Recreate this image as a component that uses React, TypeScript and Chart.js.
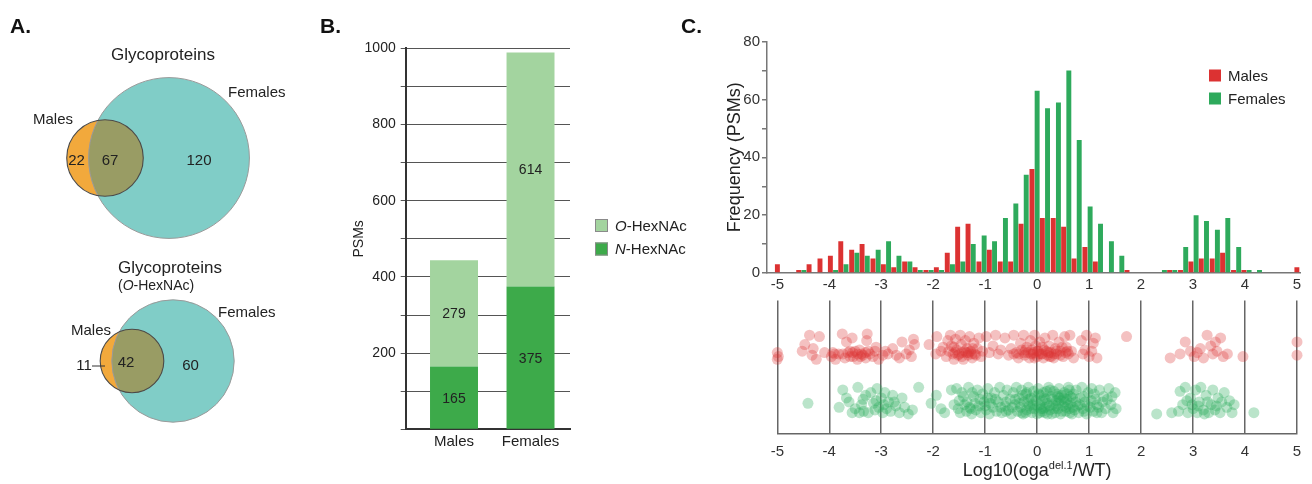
import React, { useEffect, useRef } from "react";
import { Chart, registerables } from "chart.js";

Chart.register(...registerables);

const FONT = '"Liberation Sans", Arial, Helvetica, sans-serif';
Chart.defaults.font.family = FONT;
Chart.defaults.color = "#222";

// ---------------- Panel A data ----------------
const vennSetLabels = ["Males", "Females"];
const vennTitles = ["Glycoproteins", "Glycoproteins"];
// [Males only, shared, Females only]
const vennAllProteins = [22, 67, 120];
const vennOHexNAcProteins = [11, 42, 60];

// ---------------- Panel B data ----------------
const psmCategories = ["Males", "Females"];
const psmNHexNAc = [165, 375];
const psmOHexNAc = [279, 614];
const psmTickLabels = [200, 400, 600, 800, 1000];

// ---------------- Panel C data ----------------
const histBinStarts = [
  -5.0, -4.8, -4.59, -4.39, -4.18, -3.98, -3.78, -3.57, -3.37, -3.16,
  -2.96, -2.76, -2.55, -2.35, -2.14, -1.94, -1.73, -1.53, -1.33, -1.12,
  -0.92, -0.71, -0.51, -0.31, -0.1, 0.1, 0.31, 0.51, 0.71, 0.92,
  1.12, 1.33, 1.53, 1.73, 1.94, 2.14, 2.35, 2.55, 2.76, 2.96,
  3.16, 3.37, 3.57, 3.78, 3.98, 4.18, 4.39, 4.59, 4.8, 5.0,
];
const histMales = [
  3, 0, 1, 3, 5, 6, 11, 8, 10, 5,
  3, 2, 4, 2, 1, 2, 7, 16, 17, 4,
  8, 4, 4, 17, 36, 19, 19, 16, 5, 9,
  4, 0, 0, 1, 0, 0, 0, 1, 1, 4,
  5, 5, 7, 1, 1, 0, 0, 0, 0, 2,
];
const histFemales = [
  0, 0, 1, 0, 0, 1, 3, 7, 6, 8,
  11, 6, 4, 1, 1, 1, 3, 4, 10, 13,
  11, 19, 24, 34, 63, 57, 59, 70, 46, 23,
  17, 11, 6, 0, 0, 0, 1, 1, 9, 20,
  18, 15, 19, 9, 1, 1, 0, 0, 0, 0,
];
const ratioTicks = [-5, -4, -3, -2, -1, 0, 1, 2, 3, 4, 5];
const histYTickLabels = [0, 20, 40, 60, 80];

// jitter strip: [log10 ratio, jitter position]
const scatterMales: [number, number][] = [
  [-5.0, 61], [-5.0, 56], [-4.98, 58],
  [-4.52, 62], [-4.47, 67], [-4.38, 74], [-4.33, 59], [-4.31, 64], [-4.25, 56], [-4.19, 73], [-4.09, 61],
  [-3.96, 58], [-3.93, 61], [-3.9, 60], [-3.88, 56], [-3.82, 60], [-3.75, 75], [-3.74, 60], [-3.7, 57], [-3.67, 69],
  [-3.64, 61], [-3.6, 58], [-3.6, 62], [-3.56, 72], [-3.55, 61], [-3.54, 58], [-3.5, 62], [-3.46, 56], [-3.45, 60],
  [-3.42, 63], [-3.4, 58], [-3.38, 60], [-3.35, 59], [-3.3, 57], [-3.3, 61], [-3.28, 70], [-3.27, 75], [-3.25, 62],
  [-3.22, 60], [-3.16, 58], [-3.12, 62],
  [-3.1, 65], [-3.05, 56], [-2.97, 59], [-2.92, 62], [-2.87, 60], [-2.78, 64], [-2.71, 59], [-2.65, 57], [-2.6, 69],
  [-2.52, 60], [-2.46, 63], [-2.42, 58], [-2.38, 71], [-2.36, 67],
  [-2.08, 67], [-1.95, 60], [-1.93, 73],
  [-1.85, 62], [-1.81, 65], [-1.75, 58], [-1.72, 70], [-1.7, 62], [-1.67, 74], [-1.65, 66], [-1.62, 60], [-1.6, 56],
  [-1.6, 65], [-1.58, 61], [-1.57, 71], [-1.55, 63], [-1.52, 59], [-1.5, 60], [-1.48, 74], [-1.46, 67], [-1.45, 58],
  [-1.44, 61], [-1.42, 56], [-1.4, 62], [-1.38, 70], [-1.36, 61], [-1.35, 64], [-1.33, 59], [-1.32, 61], [-1.3, 73],
  [-1.28, 62], [-1.26, 60], [-1.25, 57], [-1.24, 64], [-1.22, 68], [-1.2, 60], [-1.18, 59], [-1.15, 64], [-1.12, 72],
  [-1.08, 58], [-1.05, 62],
  [-0.98, 73], [-0.92, 61], [-0.85, 66], [-0.8, 74], [-0.75, 60], [-0.7, 63], [-0.62, 72], [-0.55, 59], [-0.5, 64],
  [-0.45, 74], [-0.45, 60], [-0.4, 61], [-0.36, 57], [-0.35, 60], [-0.32, 68], [-0.3, 63], [-0.26, 74], [-0.25, 61],
  [-0.24, 59], [-0.22, 63], [-0.2, 65], [-0.18, 61], [-0.15, 57], [-0.13, 70], [-0.12, 60], [-0.1, 63], [-0.08, 60],
  [-0.07, 61], [-0.05, 74], [-0.05, 57], [-0.03, 66], [0.0, 58], [0.0, 62], [0.02, 62], [0.04, 60], [0.05, 69],
  [0.08, 60], [0.1, 65], [0.1, 60], [0.12, 57], [0.14, 63], [0.15, 72], [0.18, 62], [0.2, 59], [0.22, 61], [0.23, 66],
  [0.24, 58], [0.26, 61], [0.27, 58], [0.3, 74], [0.32, 57], [0.33, 60], [0.35, 64], [0.37, 62], [0.38, 60], [0.42, 69],
  [0.45, 62], [0.45, 59], [0.48, 65], [0.5, 58], [0.53, 73], [0.55, 61], [0.56, 65], [0.58, 62], [0.6, 60], [0.63, 74],
  [0.66, 62], [0.7, 57],
  [0.85, 70], [0.88, 60], [0.92, 63], [0.95, 74], [1.0, 58], [1.05, 62], [1.08, 68], [1.12, 72], [1.15, 57],
  [1.72, 73],
  [2.56, 57], [2.75, 60], [2.85, 69], [2.95, 62], [3.02, 58], [3.08, 61], [3.14, 64], [3.2, 57], [3.27, 74],
  [3.34, 66], [3.38, 60], [3.43, 69], [3.46, 62], [3.53, 72], [3.58, 58], [3.66, 60], [3.96, 58],
  [5.0, 69], [5.0, 59],
];

const scatterFemales: [number, number][] = [
  [-4.41, 23],
  [-3.81, 20], [-3.74, 33], [-3.67, 27], [-3.62, 24], [-3.56, 16], [-3.5, 19], [-3.45, 35], [-3.42, 16], [-3.38, 22],
  [-3.35, 26], [-3.34, 17], [-3.3, 29], [-3.25, 16], [-3.2, 31], [-3.15, 23], [-3.12, 18], [-3.1, 25], [-3.08, 34],
  [-3.05, 20], [-3.0, 27], [-2.97, 16], [-2.95, 22], [-2.93, 31], [-2.9, 19], [-2.86, 24], [-2.82, 17], [-2.78, 29],
  [-2.75, 24], [-2.72, 21], [-2.65, 16], [-2.6, 27], [-2.55, 20], [-2.48, 15], [-2.4, 18], [-2.28, 35],
  [-2.04, 23], [-1.94, 29], [-1.85, 19], [-1.78, 16], [-1.65, 33], [-1.6, 22],
  [-1.55, 34], [-1.52, 19], [-1.5, 25], [-1.48, 16], [-1.45, 31], [-1.42, 28], [-1.4, 22], [-1.36, 17], [-1.35, 24],
  [-1.32, 35], [-1.3, 20], [-1.28, 19], [-1.26, 15], [-1.25, 31], [-1.22, 28], [-1.2, 23], [-1.18, 18], [-1.15, 33],
  [-1.12, 21], [-1.1, 26], [-1.08, 16], [-1.05, 30], [-1.02, 24], [-1.0, 21], [-0.98, 18], [-0.95, 34], [-0.95, 27],
  [-0.92, 15], [-0.9, 23], [-0.88, 27], [-0.85, 20], [-0.82, 31], [-0.8, 26], [-0.78, 17], [-0.75, 24], [-0.72, 35],
  [-0.7, 20], [-0.68, 16], [-0.65, 29], [-0.62, 21], [-0.6, 24], [-0.6, 17], [-0.58, 33], [-0.55, 18], [-0.52, 26],
  [-0.5, 15], [-0.48, 20], [-0.46, 31], [-0.43, 22], [-0.42, 26], [-0.4, 35], [-0.38, 17], [-0.35, 27], [-0.34, 23],
  [-0.32, 20], [-0.3, 33], [-0.3, 16], [-0.28, 29], [-0.27, 15], [-0.25, 24], [-0.22, 30], [-0.22, 16], [-0.2, 18],
  [-0.2, 31], [-0.18, 23], [-0.17, 35], [-0.16, 26], [-0.15, 21], [-0.12, 27], [-0.12, 19], [-0.1, 16], [-0.08, 22],
  [-0.07, 32], [-0.05, 19], [-0.05, 28], [-0.02, 25], [0.0, 15], [0.0, 21], [0.02, 34], [0.03, 30], [0.05, 22],
  [0.05, 16], [0.07, 29], [0.08, 19], [0.1, 17], [0.1, 25], [0.12, 31], [0.12, 19], [0.14, 27], [0.15, 20], [0.15, 16],
  [0.17, 26], [0.18, 32], [0.19, 23], [0.2, 15], [0.22, 35], [0.23, 21], [0.25, 18], [0.25, 33], [0.27, 28], [0.28, 15],
  [0.29, 26], [0.3, 22], [0.32, 32], [0.33, 19], [0.35, 16], [0.36, 21], [0.37, 25], [0.38, 30], [0.4, 19], [0.4, 28],
  [0.41, 23], [0.42, 34], [0.43, 27], [0.45, 15], [0.46, 25], [0.47, 29], [0.48, 17], [0.5, 21], [0.51, 27], [0.52, 31],
  [0.53, 24], [0.55, 17], [0.55, 20], [0.57, 26], [0.58, 30], [0.59, 22], [0.6, 35], [0.62, 19], [0.62, 33], [0.63, 16],
  [0.64, 28], [0.65, 23], [0.67, 15], [0.68, 27], [0.69, 20], [0.7, 30], [0.72, 18], [0.74, 24], [0.75, 33], [0.78, 21],
  [0.8, 16], [0.82, 22], [0.83, 27], [0.86, 35], [0.88, 19], [0.9, 28], [0.9, 17], [0.92, 24], [0.95, 15], [0.97, 21],
  [0.98, 31], [1.02, 20], [1.04, 25], [1.05, 34], [1.08, 17], [1.1, 30], [1.12, 26], [1.15, 22], [1.15, 16], [1.18, 20],
  [1.2, 33], [1.24, 16], [1.26, 24], [1.28, 28], [1.32, 19], [1.35, 26], [1.38, 34], [1.42, 22], [1.44, 28], [1.46, 16],
  [1.5, 31], [1.52, 19],
  [2.3, 15], [2.59, 16], [2.72, 17], [2.75, 32], [2.8, 22], [2.85, 35], [2.88, 25], [2.9, 16], [2.95, 27], [2.98, 22],
  [3.0, 19], [3.05, 33], [3.08, 16], [3.1, 21], [3.12, 24], [3.15, 35], [3.2, 18], [3.22, 15], [3.25, 29], [3.28, 24],
  [3.3, 16], [3.35, 22], [3.38, 33], [3.42, 18], [3.45, 21], [3.48, 27], [3.52, 16], [3.55, 24], [3.6, 31], [3.65, 20],
  [3.7, 25], [3.75, 16], [3.79, 22], [4.17, 16],
];

// ---------------- styles ----------------
const TEAL = "#80cdc7";
const ORANGE = "#f2a93c";
const OLIVE = "#999c64";
const DARK_GREEN = "#3daa4a";
const LIGHT_GREEN = "#a3d49f";
const RED = "#dc3232";
const GREEN = "#2eaa5c";
const RED_A = "rgba(220,50,50,0.3)";
const GREEN_A = "rgba(40,170,90,0.32)";

type Part = { text: string; size: number; italic?: boolean; bold?: boolean; dy?: number };

function drawRich(ctx: CanvasRenderingContext2D, parts: Part[], x: number, y: number, align: "left" | "center", color = "#222") {
  const font = (p: Part) => `${p.italic ? "italic " : ""}${p.bold ? "bold " : ""}${p.size}px ${FONT}`;
  const widths = parts.map((p) => {
    ctx.font = font(p);
    return ctx.measureText(p.text).width;
  });
  const total = widths.reduce((a, b) => a + b, 0);
  let cx = align === "center" ? x - total / 2 : x;
  ctx.save();
  ctx.fillStyle = color;
  ctx.textAlign = "left";
  ctx.textBaseline = "alphabetic";
  parts.forEach((p, i) => {
    ctx.font = font(p);
    ctx.fillText(p.text, cx, y + (p.dy || 0));
    cx += widths[i];
  });
  ctx.restore();
}

const letterPlugin = (text: string, x: number, y: number) => ({
  id: "letter" + text,
  afterDraw(chart: any) {
    drawRich(chart.ctx, [{ text, size: 21, bold: true }], x, y, "left", "#111");
  },
});

// ---------------- Panel A (Venn) ----------------
const vennLayout = [
  {
    counts: vennAllProteins,
    femaleCx: 169, maleCx: 105, cy: 158, unit: 0.43,
    title: { x: 163, y: 60, align: "center" as const },
    subtitle: null as null | { x: number; y: number },
    femaleLabel: { x: 228, y: 96.5 },
    maleLabel: { x: 33, y: 123.5 },
    countPos: [{ x: 76.5, y: 165 }, { x: 110, y: 165 }, { x: 199, y: 165 }],
    leader: null as null | { x1: number; x2: number; y: number },
  },
  {
    counts: vennOHexNAcProteins,
    femaleCx: 173, maleCx: 132, cy: 361, unit: 0.6,
    title: { x: 118, y: 273, align: "left" as const },
    subtitle: { x: 118, y: 290 },
    femaleLabel: { x: 218, y: 317 },
    maleLabel: { x: 71, y: 335 },
    countPos: [{ x: 84, y: 370 }, { x: 126, y: 366.5 }, { x: 190.5, y: 369.5 }],
    leader: { x1: 92, x2: 105, y: 366 },
  },
];

const vennPlugin = {
  id: "venn",
  afterDatasetsDraw(chart: any) {
    const ctx: CanvasRenderingContext2D = chart.ctx;
    const xs = chart.scales.x;
    const ys = chart.scales.y;
    const px = (v: number) => xs.getPixelForValue(v);
    const py = (v: number) => ys.getPixelForValue(v);
    const pr = (r: number) => Math.abs(xs.getPixelForValue(r) - xs.getPixelForValue(0));
    vennLayout.forEach((d, di) => {
      const [mOnly, both, fOnly] = d.counts;
      const fx = px(d.femaleCx), mx = px(d.maleCx), cy = py(d.cy);
      const fr = pr(d.unit * (both + fOnly));
      const mr = pr(d.unit * (mOnly + both));
      ctx.save();
      ctx.beginPath(); ctx.arc(fx, cy, fr, 0, Math.PI * 2); ctx.fillStyle = TEAL; ctx.fill();
      ctx.beginPath(); ctx.arc(mx, cy, mr, 0, Math.PI * 2); ctx.fillStyle = ORANGE; ctx.fill();
      ctx.save();
      ctx.beginPath(); ctx.arc(fx, cy, fr, 0, Math.PI * 2); ctx.clip();
      ctx.beginPath(); ctx.arc(mx, cy, mr, 0, Math.PI * 2); ctx.fillStyle = OLIVE; ctx.fill();
      ctx.restore();
      ctx.beginPath(); ctx.arc(fx, cy, fr, 0, Math.PI * 2); ctx.strokeStyle = "#9a9a9a"; ctx.lineWidth = 1; ctx.stroke();
      ctx.beginPath(); ctx.arc(mx, cy, mr, 0, Math.PI * 2); ctx.strokeStyle = "#4a4a4a"; ctx.lineWidth = 1.1; ctx.stroke();
      ctx.restore();

      drawRich(ctx, [{ text: vennTitles[di], size: 17 }], px(d.title.x), py(d.title.y), d.title.align);
      if (d.subtitle) {
        drawRich(ctx, [{ text: "(", size: 14 }, { text: "O", size: 14, italic: true }, { text: "-HexNAc)", size: 14 }],
          px(d.subtitle.x), py(d.subtitle.y), "left");
      }
      drawRich(ctx, [{ text: vennSetLabels[1], size: 15 }], px(d.femaleLabel.x), py(d.femaleLabel.y), "left");
      drawRich(ctx, [{ text: vennSetLabels[0], size: 15 }], px(d.maleLabel.x), py(d.maleLabel.y), "left");
      d.counts.forEach((c, i) => {
        const p = d.countPos[i];
        drawRich(ctx, [{ text: String(c), size: 15 }], px(p.x), py(p.y), "center");
      });
      if (d.leader) {
        ctx.save();
        ctx.beginPath();
        ctx.moveTo(px(d.leader.x1), py(d.leader.y));
        ctx.lineTo(px(d.leader.x2), py(d.leader.y));
        ctx.strokeStyle = "#333"; ctx.lineWidth = 1; ctx.stroke();
        ctx.restore();
      }
    });
  },
};

function vennConfig(): any {
  return {
    type: "scatter",
    data: { datasets: [{ data: [] }] },
    options: {
      responsive: false,
      animation: false,
      layout: { padding: 0 },
      plugins: { legend: { display: false }, tooltip: { enabled: false } },
      scales: {
        x: { type: "linear", min: 0, max: 310, display: false },
        y: { type: "linear", min: 0, max: 484, reverse: true, display: false },
      },
    },
    plugins: [vennPlugin, letterPlugin("A.", 10, 33)],
  };
}

// ---------------- Panel B (stacked bars) ----------------
const bLabelsPlugin = {
  id: "bLabels",
  afterDatasetsDraw(chart: any) {
    const ctx: CanvasRenderingContext2D = chart.ctx;
    chart.data.datasets.forEach((ds: any, i: number) => {
      const meta = chart.getDatasetMeta(i);
      meta.data.forEach((bar: any, j: number) => {
        const v = ds.data[j].y;
        const cy = (bar.y + bar.base) / 2;
        drawRich(ctx, [{ text: String(v), size: 14 }], bar.x, cy + 5, "center", "#222");
      });
    });
  },
  afterDraw(chart: any) {
    const ctx: CanvasRenderingContext2D = chart.ctx;
    const items = [...chart.data.datasets].reverse();
    items.forEach((ds: any, i: number) => {
      const top = 219 + i * 23.5;
      ctx.save();
      ctx.fillStyle = ds.backgroundColor;
      ctx.fillRect(285, top, 13, 13);
      ctx.strokeStyle = "#8a8a8a";
      ctx.lineWidth = 1;
      ctx.strokeRect(285.5, top + 0.5, 12, 12);
      ctx.restore();
      const [prefix, rest] = ds.label.split("-");
      drawRich(ctx, [{ text: prefix, size: 15, italic: true }, { text: "-" + rest, size: 15 }], 305, top + 11.5, "left");
    });
  },
};

function barConfig(): any {
  return {
    type: "bar",
    data: {
      datasets: [
        { label: "N-HexNAc", data: psmCategories.map((_, i) => ({ x: i + 1, y: psmNHexNAc[i] })), backgroundColor: DARK_GREEN },
        { label: "O-HexNAc", data: psmCategories.map((_, i) => ({ x: i + 1, y: psmOHexNAc[i] })), backgroundColor: LIGHT_GREEN },
      ],
    },
    options: {
      responsive: false,
      animation: false,
      layout: { padding: { left: 0, top: 48.3, right: 140, bottom: 0 } },
      plugins: { legend: { display: false }, tooltip: { enabled: false } },
      datasets: { bar: { barPercentage: 0.627, categoryPercentage: 1, borderWidth: 0 } },
      scales: {
        x: {
          type: "linear", stacked: true, min: 0.3686, max: 2.516, offset: false,
          afterBuildTicks: (s: any) => { s.ticks = psmCategories.map((_, i) => ({ value: i + 1 })); },
          ticks: {
            callback: (v: any) => psmCategories[Math.round(v) - 1] ?? "",
            font: { size: 15 }, color: "#222", padding: 4, autoSkip: false, maxRotation: 0,
          },
          grid: { display: false, drawTicks: false, offset: false },
          border: { display: true, color: "#333", width: 2 },
          afterFit: (s: any) => { s.height = 54.7; },
        },
        y: {
          type: "linear", stacked: true, min: 0, max: 1000,
          ticks: {
            stepSize: 100,
            callback: (v: any) => (psmTickLabels.includes(v) ? String(v) : ""),
            font: { size: 14 }, color: "#222", padding: 5,
          },
          grid: { color: "#555", lineWidth: 1, tickLength: 5, drawTicks: true },
          border: { display: true, color: "#333", width: 2 },
          title: { display: true, text: "PSMs", font: { size: 14 }, color: "#222", padding: { top: 40.6, bottom: 0 } },
          afterFit: (s: any) => { s.width = 95.7; },
        },
      },
    },
    plugins: [bLabelsPlugin, letterPlugin("B.", 10, 33)],
  };
}

// ---------------- Panel C (histogram) ----------------
const histLegendPlugin = {
  id: "histLegend",
  afterDraw(chart: any) {
    const ctx: CanvasRenderingContext2D = chart.ctx;
    chart.data.datasets.forEach((ds: any, i: number) => {
      const top = 69.5 + i * 23;
      ctx.save();
      ctx.fillStyle = ds.backgroundColor;
      ctx.fillRect(529, top, 12, 12);
      ctx.restore();
      drawRich(ctx, [{ text: ds.label, size: 15 }], 548, top + 11.5, "left");
    });
  },
};

function histConfig(): any {
  return {
    type: "bar",
    data: {
      datasets: [
        { label: "Males", data: histBinStarts.map((x, i) => ({ x, y: histMales[i] })), backgroundColor: RED },
        { label: "Females", data: histBinStarts.map((x, i) => ({ x: x + 0.1, y: histFemales[i] })), backgroundColor: GREEN },
      ],
    },
    options: {
      responsive: false,
      animation: false,
      layout: { padding: { left: 0, top: 41.7, right: 12, bottom: 0 } },
      plugins: { legend: { display: false }, tooltip: { enabled: false } },
      datasets: { bar: { grouped: false, barPercentage: 0.95, categoryPercentage: 1, borderWidth: 0 } },
      scales: {
        x: {
          type: "linear", min: -5.2, max: 5.06, offset: false,
          afterBuildTicks: (s: any) => { s.ticks = ratioTicks.map((v) => ({ value: v })); },
          ticks: { font: { size: 15 }, color: "#333", padding: 3, autoSkip: false, maxRotation: 0 },
          grid: { display: false, drawTicks: false, offset: false },
          border: { display: true, color: "#777", width: 1.5 },
          afterFit: (s: any) => { s.height = 22; },
        },
        y: {
          type: "linear", min: 0, max: 80,
          ticks: {
            stepSize: 10,
            callback: (v: any) => (histYTickLabels.includes(v) ? String(v) : ""),
            font: { size: 15 }, color: "#333", padding: 2,
          },
          grid: { drawOnChartArea: false, tickLength: 5, color: "#777", lineWidth: 1.5 },
          border: { display: true, color: "#777", width: 1.5 },
          title: { display: true, text: "Frequency (PSMs)", font: { size: 18 }, color: "#222", padding: { top: 44, bottom: 0 } },
          afterFit: (s: any) => { s.width = 87; },
        },
      },
    },
    plugins: [histLegendPlugin, letterPlugin("C.", 1, 33)],
  };
}

// ---------------- Panel C (jitter strip) ----------------
const xTitleParts: Part[] = [
  { text: "Log10(oga", size: 18 },
  { text: "del.1", size: 11, dy: -7 },
  { text: "/WT)", size: 18 },
];

const xTitlePlugin = {
  id: "xTitle",
  afterDraw(chart: any) {
    const area = chart.chartArea;
    drawRich(chart.ctx, xTitleParts, (area.left + area.right) / 2, 181, "center");
  },
};

function stripConfig(): any {
  return {
    type: "scatter",
    data: {
      datasets: [
        { label: "Males", data: scatterMales.map(([x, y]) => ({ x, y })), backgroundColor: RED_A, borderWidth: 0, pointRadius: 5.5, clip: false },
        { label: "Females", data: scatterFemales.map(([x, y]) => ({ x, y })), backgroundColor: GREEN_A, borderWidth: 0, pointRadius: 5.5, clip: false },
      ],
    },
    options: {
      responsive: false,
      animation: false,
      layout: { padding: { left: 97.3, right: 15, top: 2, bottom: 0 } },
      plugins: { legend: { display: false }, tooltip: { enabled: false } },
      scales: {
        x: {
          type: "linear", min: -5, max: 5,
          afterBuildTicks: (s: any) => { s.ticks = ratioTicks.map((v) => ({ value: v })); },
          ticks: { font: { size: 15 }, color: "#333", padding: 9, autoSkip: false, maxRotation: 0 },
          grid: { color: "#666", lineWidth: 1.5, drawTicks: false },
          border: { display: true, color: "#666", width: 1.5 },
          afterFit: (s: any) => { s.height = 50; },
        },
        y: { type: "linear", min: 0, max: 100, display: false },
      },
    },
    plugins: [xTitlePlugin],
  };
}

export default function App() {
  const vennRef = useRef<HTMLCanvasElement>(null);
  const barRef = useRef<HTMLCanvasElement>(null);
  const histRef = useRef<HTMLCanvasElement>(null);
  const stripRef = useRef<HTMLCanvasElement>(null);

  useEffect(() => {
    const charts = [
      new Chart(vennRef.current!, vennConfig()),
      new Chart(barRef.current!, barConfig()),
      new Chart(histRef.current!, histConfig()),
      new Chart(stripRef.current!, stripConfig()),
    ];
    return () => charts.forEach((c) => c.destroy());
  }, []);

  const abs = (left: number, top: number): React.CSSProperties => ({ position: "absolute", left, top, display: "block" });

  return (
    <div style={{ position: "fixed", left: 0, top: 0, width: 1312, height: 484, background: "#fff", overflow: "hidden" }}>
      <canvas ref={vennRef} width={310} height={484} style={abs(0, 0)} />
      <canvas ref={barRef} width={400} height={484} style={abs(310, 0)} />
      <canvas ref={histRef} width={632} height={295} style={abs(680, 0)} />
      <canvas ref={stripRef} width={632} height={189} style={abs(680, 295)} />
    </div>
  );
}
